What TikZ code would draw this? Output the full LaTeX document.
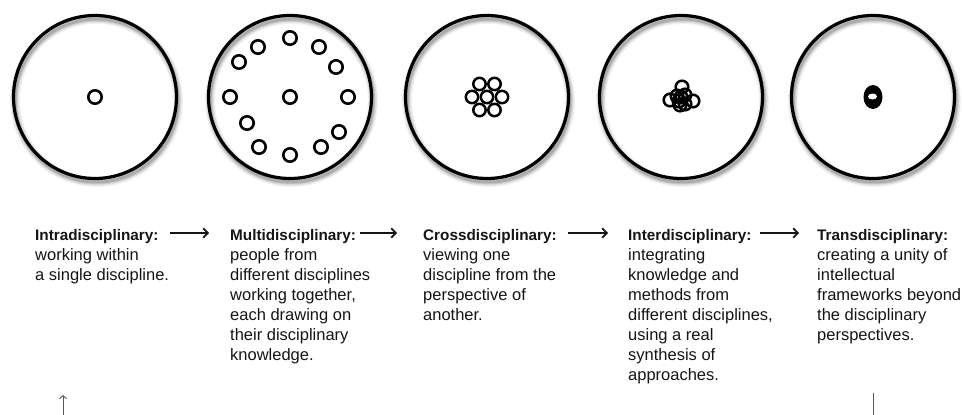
\documentclass[tikz,border=0pt]{standalone}
\usepackage{fontspec}
\setmainfont{Liberation Sans}
\usetikzlibrary{arrows.meta}

\definecolor{ink}{HTML}{151515}
\definecolor{note}{HTML}{5A5A5A}

% soft drop shadow under a ring, offset down and to the right
\newcommand{\ringshadow}[2]{%
  \foreach \w/\o in {10/0.05, 7.5/0.07, 5/0.10, 3/0.14}
    \draw[line width=\w pt, black, opacity=\o] (#1+1.5, #2+3.5) circle (81.5);
}

\begin{document}
\begin{tikzpicture}[x=1pt, y=-1pt,
  ring/.style={circle, draw=black, line width=3.2pt, minimum size=163pt, inner sep=0pt},
  dot/.style={circle, draw=black, line width=2.6pt, minimum size=13.4pt, inner sep=0pt},
  petal/.style={black, line width=2.5pt},
  title/.style={anchor=base west, inner sep=0pt, text=ink,
    font=\bfseries\fontsize{15.3}{20}\selectfont},
  body/.style={anchor=base west, inner sep=0pt, text=ink,
    font=\fontsize{16.5}{20}\selectfont},
  flow/.style={ink, line width=1.8pt, -{Straight Barb[length=4.5pt, width=9.5pt]}},
  edgemark/.style={note, line width=1pt}
]
\useasboundingbox (0,0) rectangle (962,415);
\fill[white] (0,0) rectangle (962,415);

% shadows behind the five rings
\ringshadow{95}{97}
\ringshadow{290}{97}
\ringshadow{487}{97}
\ringshadow{681}{97}
\ringshadow{873}{97}

% the five rings
\node[ring] (c1) at (95,97) {};
\node[ring] (c2) at (290,97) {};
\node[ring] (c3) at (487,97) {};
\node[ring] (c4) at (681,97) {};
\node[ring] (c5) at (873,97) {};

% one discipline
\node[dot] (d1) at (c1.center) {};

% many disciplines side by side
\node[dot] (m0) at (c2.center) {};
\foreach \dx/\dy [count=\i] in {0/-59, 29/-50, 46/-30, 58/0, 49/35, 31/50,
                                0/58, -31/50, -43/26, -60/0, -51/-35, -32/-50}
  \node[dot] (m\i) at ([shift={(\dx,\dy)}]c2.center) {};

% touching cluster
\begin{scope}[shift={(c3.center)}]
  \foreach \dx/\dy in {0/0, -15/0, 15/0, -7.5/-13, 7.5/-13, -7.5/13, 7.5/13}
    \draw[petal] (\dx,\dy) circle (6.2);
\end{scope}

% overlapping cluster
\begin{scope}[shift={(c4.center)}]
  \foreach \dx/\dy in {1/-10, -11/3, 12/4, -1/8, 4/7, 0/0, -4/-1, 4/-2, -2/4}
    \draw[petal] (\dx,\dy) circle (6.3);
\end{scope}

% fused unit
\fill[black] (c5.center) ellipse [x radius=9.5, y radius=12];
\fill[white] ([shift={(-0.5,-0.5)}]c5.center) ellipse [x radius=4.5, y radius=3];

% labels
\node[title] (t1) at (35,240) {Intradisciplinary:};
\node[title] (t2) at (230,240) {Multidisciplinary:};
\node[title] (t3) at (423,240) {Crossdisciplinary:};
\node[title] (t4) at (628,240) {Interdisciplinary:};
\node[title] (t5) at (817,240) {Transdisciplinary:};

\node[body] (b1) at (35,260) {\begin{tabular}[t]{@{}l@{}}working within\\a single discipline.\end{tabular}};
\node[body] (b2) at (230,260) {\begin{tabular}[t]{@{}l@{}}people from\\different disciplines\\working together,\\each drawing on\\their disciplinary\\knowledge.\end{tabular}};
\node[body] (b3) at (423,260) {\begin{tabular}[t]{@{}l@{}}viewing one\\discipline from the\\perspective of\\another.\end{tabular}};
\node[body] (b4) at (628,260) {\begin{tabular}[t]{@{}l@{}}integrating\\knowledge and\\methods from\\different disciplines,\\using a real\\synthesis of\\approaches.\end{tabular}};
\node[body] (b5) at (817,260) {\begin{tabular}[t]{@{}l@{}}creating a unity of\\intellectual\\frameworks beyond\\the disciplinary\\perspectives.\end{tabular}};

% progression arrows
\coordinate (a1) at (170,233); \coordinate (e1) at (209,233);
\coordinate (a2) at (360,233); \coordinate (e2) at (397,233);
\coordinate (a3) at (568,233); \coordinate (e3) at (608,233);
\coordinate (a4) at (760,233); \coordinate (e4) at (799,233);
\draw[flow] (a1) -- (e1);
\draw[flow] (a2) -- (e2);
\draw[flow] (a3) -- (e3);
\draw[flow] (a4) -- (e4);

% marks at the lower edge
\coordinate (u0) at (63,415); \coordinate (u1) at (63,395);
\draw[edgemark, -{Straight Barb[length=3pt, width=7pt]}] (u0) -- (u1);
\coordinate (v0) at (873,393); \coordinate (v1) at (873,415);
\draw[edgemark] (v0) -- (v1);
\end{tikzpicture}
\end{document}
